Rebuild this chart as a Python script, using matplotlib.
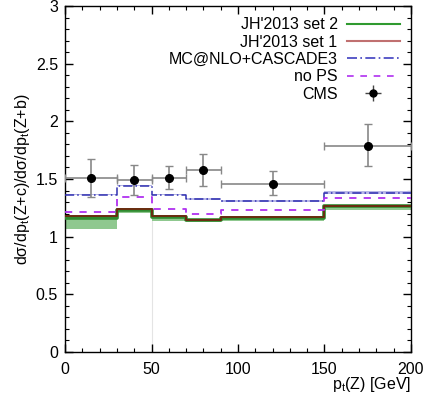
import matplotlib
matplotlib.use("Agg")
import matplotlib.pyplot as plt
import numpy as np
from matplotlib.lines import Line2D

plt.rcParams['font.family'] = ['Liberation Sans', 'DejaVu Sans']
plt.rcParams['mathtext.fontset'] = 'custom'
plt.rcParams['mathtext.rm'] = 'Liberation Sans'
plt.rcParams['mathtext.it'] = 'Liberation Sans:italic'
plt.rcParams['font.size'] = 10

# Data
bin_edges = [0, 30, 50, 70, 90, 150, 200]
jh_set1 = [1.175, 1.24, 1.175, 1.148, 1.17, 1.27]
jh_set2 = [1.165, 1.235, 1.17, 1.142, 1.165, 1.265]
jh_band_low = [1.07, 1.205, 1.14, 1.13, 1.14, 1.235]
mc_cascade = [1.365, 1.443, 1.365, 1.325, 1.307, 1.38]
mc_band_low = [1.358, 1.436, 1.358, 1.318, 1.300, 1.368]
mc_band_high = [1.372, 1.45, 1.372, 1.332, 1.314, 1.392]
no_ps = [1.215, 1.342, 1.243, 1.2, 1.23, 1.336]

cms_x = [15, 40, 60, 80, 120, 175]
cms_y = [1.51, 1.49, 1.51, 1.58, 1.46, 1.79]
cms_xerr = [15, 10, 10, 10, 30, 25]
cms_yerr_lo = [0.165, 0.13, 0.10, 0.14, 0.10, 0.18]
cms_yerr_hi = [0.165, 0.13, 0.10, 0.14, 0.11, 0.19]

fig = plt.figure(figsize=(4.25, 3.97), dpi=100)
ax = fig.add_axes([0.153, 0.1134, 0.814, 0.8715])

edges = np.array(bin_edges)

def step(vals):
    return np.append(vals, vals[-1])

# faint vertical line artifact at 50
ax.plot([50, 50], [0, 1.17], color='#e4e4e4', lw=0.8, zorder=1)

# green band
ax.fill_between(edges, step(jh_band_low), step(jh_set2), step='post',
                color='#8fc88f', lw=0, zorder=2)
# MC band
ax.fill_between(edges, step(mc_band_low), step(mc_band_high), step='post',
                color='#b8b8e8', lw=0, zorder=2)

ax.step(edges, step(jh_set2), where='post', color='#2f8a2f', lw=2.6, zorder=3)
ax.step(edges, step(jh_set1), where='post', color='#6b2c10', lw=1.4, zorder=4)
ax.step(edges, step(mc_cascade), where='post', color='#3030b0', lw=1.1,
        ls=(0, (6, 2, 1, 2)), zorder=4)
ax.step(edges, step(no_ps), where='post', color='#b030f0', lw=1.3,
        ls=(0, (4, 4)), zorder=4)

ax.errorbar(cms_x, cms_y, xerr=cms_xerr, yerr=[cms_yerr_lo, cms_yerr_hi],
            fmt='o', color='black', ms=5.5, ecolor='#888888', elinewidth=1.2,
            capsize=3, capthick=1, zorder=6)

ax.set_xlim(0, 200)
ax.set_ylim(0, 3)
ax.set_xticks([0, 50, 100, 150, 200])
ax.set_xticks(np.arange(0, 201, 10), minor=True)
ax.set_yticks([0, 0.5, 1, 1.5, 2, 2.5, 3])
ax.set_yticklabels(['0', '0.5', '1', '1.5', '2', '2.5', '3'])
ax.set_yticks(np.arange(0, 3.01, 0.1), minor=True)
ax.tick_params(which='both', direction='in', top=True, right=True, labelsize=11.5)
ax.tick_params(which='major', length=6, width=1)
ax.tick_params(which='minor', length=3, width=0.8)
ax.tick_params(axis='x', pad=7)
ax.tick_params(axis='y', pad=5)
for s in ax.spines.values():
    s.set_linewidth(1)

ax.set_xlabel(r'p$_{\mathrm{t}}$(Z) [GeV]', loc='right', fontsize=11.5, labelpad=-1)
ax.set_ylabel(r'dσ/dp$_{\mathrm{t}}$(Z+c)/dσ/dp$_{\mathrm{t}}$(Z+b)', fontsize=11.5, labelpad=3)

handles = [
    Line2D([], [], color='#2f9a2f', lw=1.5),
    Line2D([], [], color='#c07070', lw=1.5),
    Line2D([], [], color='#4040c0', lw=1.2, ls=(0, (6, 2, 1, 2))),
    Line2D([], [], color='#b030f0', lw=1.2, ls=(0, (4, 4))),
]
cms_h = ax.errorbar([], [], xerr=[], yerr=[], fmt='o', color='black', ms=5,
                    ecolor='#444444', elinewidth=1, capsize=3)
labels = ["JH'2013 set 2", "JH'2013 set 1", "MC@NLO+CASCADE3", "no PS", "CMS"]
leg = ax.legend(handles + [cms_h], labels, loc='upper right', markerfirst=False,
                frameon=False, fontsize=11.5, handlelength=3.3, labelspacing=0.15,
                borderaxespad=0.3, handletextpad=0.6)

fig.savefig('out.png', dpi=100)
